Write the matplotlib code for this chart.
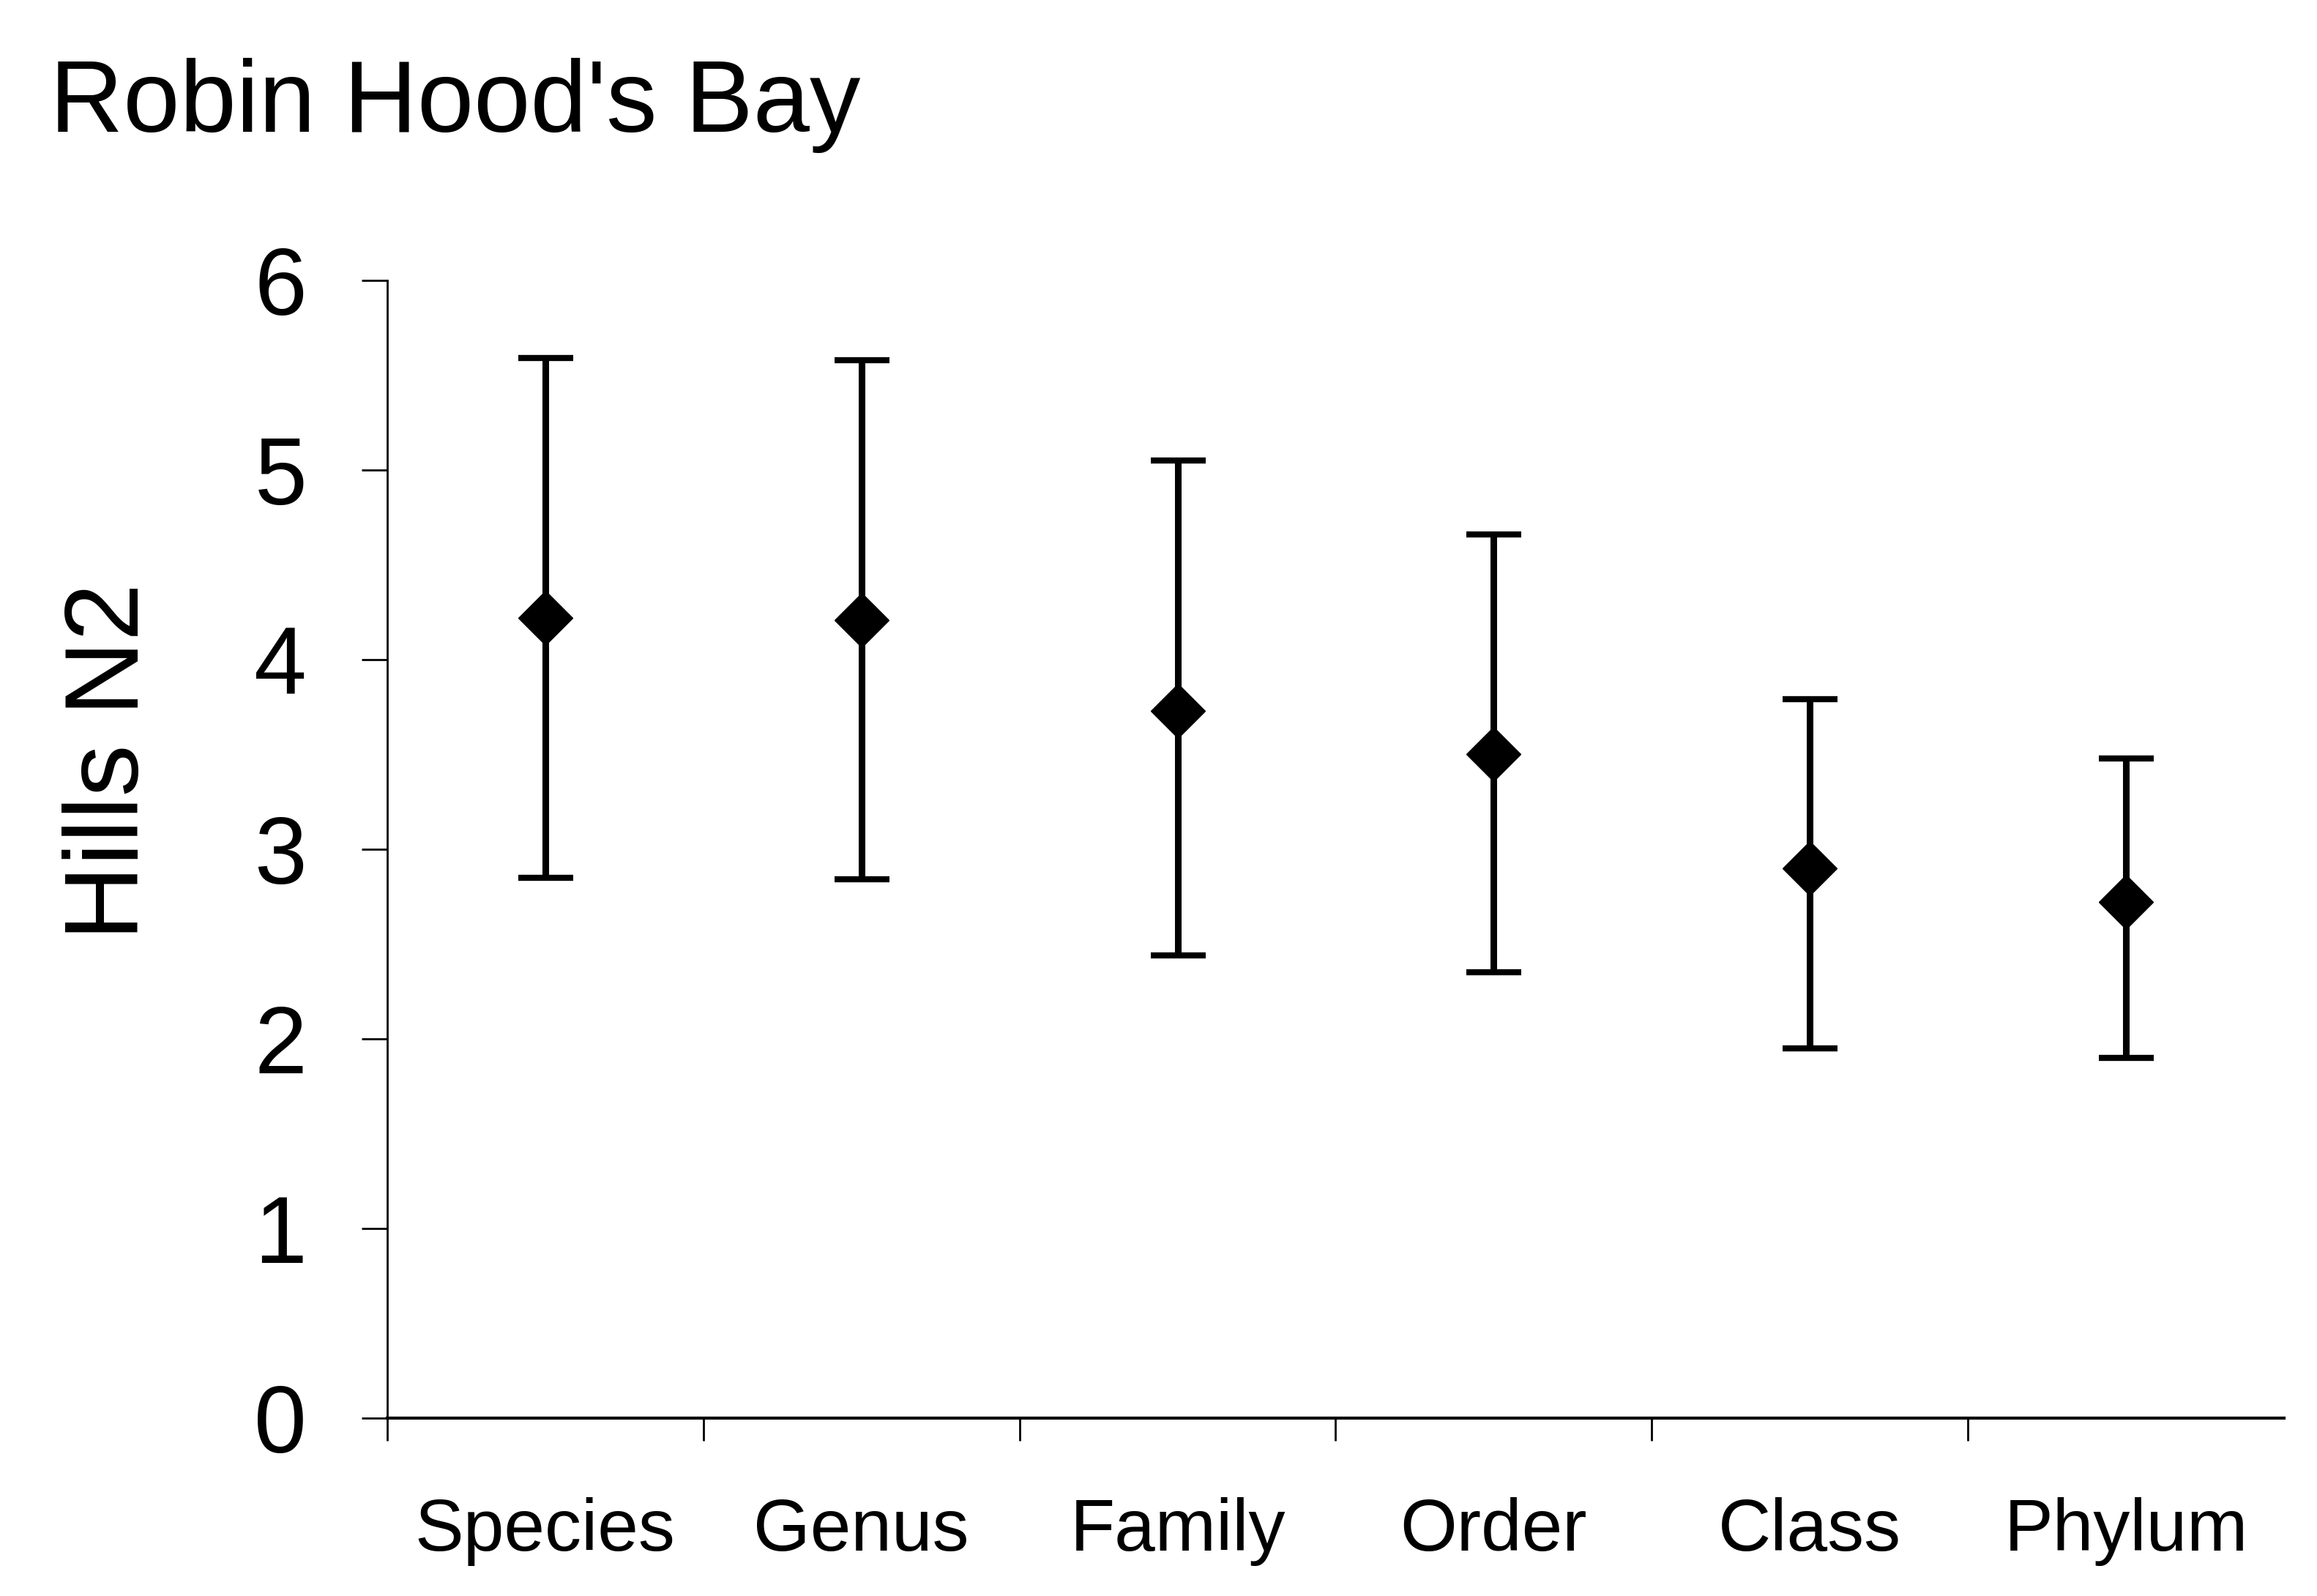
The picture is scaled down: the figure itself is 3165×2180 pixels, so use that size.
## Robin Hood's Bay - Hills N2 by taxonomic level ##
import numpy as np
import matplotlib
matplotlib.use('Agg')
import matplotlib.pyplot as plt

levels = ['Species', 'Genus', 'Family', 'Order', 'Class', 'Phylum']
mean_n2 = [4.22, 4.21, 3.73, 3.50, 2.90, 2.72]
upper_n2 = [5.59, 5.58, 5.05, 4.66, 3.79, 3.48]
lower_n2 = [2.85, 2.84, 2.44, 2.35, 1.95, 1.90]
yticks = [0, 1, 2, 3, 4, 5, 6]

plt.rcParams['font.family'] = ['Liberation Sans', 'DejaVu Sans']

fig = plt.figure(figsize=(31.65, 21.8), dpi=100)
ax = fig.add_axes([0.1671, 0.1115, 0.8187, 0.7128])

x = np.arange(len(levels))
mean = np.array(mean_n2)
yerr = [mean - np.array(lower_n2), np.array(upper_n2) - mean]
ax.errorbar(x, mean, yerr=yerr, fmt='D', color='black', ms=38,
            elinewidth=6.5, capsize=27, capthick=6, zorder=3)

ax.set_xlim(-0.5, 5.5)
ax.set_ylim(0, 6)
ax.set_yticks(yticks)
ax.set_xticks(x)
ax.set_xticklabels(levels, fontsize=72)
ax.set_xticks(np.arange(-0.5, 5.0, 1.0), minor=True)
ax.tick_params(axis='x', which='major', length=0, pad=78)
ax.tick_params(axis='x', which='minor', length=22, width=2, direction='out')
ax.tick_params(axis='y', which='major', length=25, width=2, pad=54, labelsize=93)

for s in ['top', 'right']:
    ax.spines[s].set_visible(False)
ax.spines['left'].set_linewidth(2)
ax.spines['bottom'].set_linewidth(3)

fig.text(68/3165, 1 - 180/2180, "Robin Hood's Bay", fontsize=100, va='baseline', ha='left')
fig.text(152/3165, 1 - 1040/2180, 'Hills N2', fontsize=102, rotation=90, va='center', ha='center')

fig.savefig('out.png', dpi=100, facecolor='white')
